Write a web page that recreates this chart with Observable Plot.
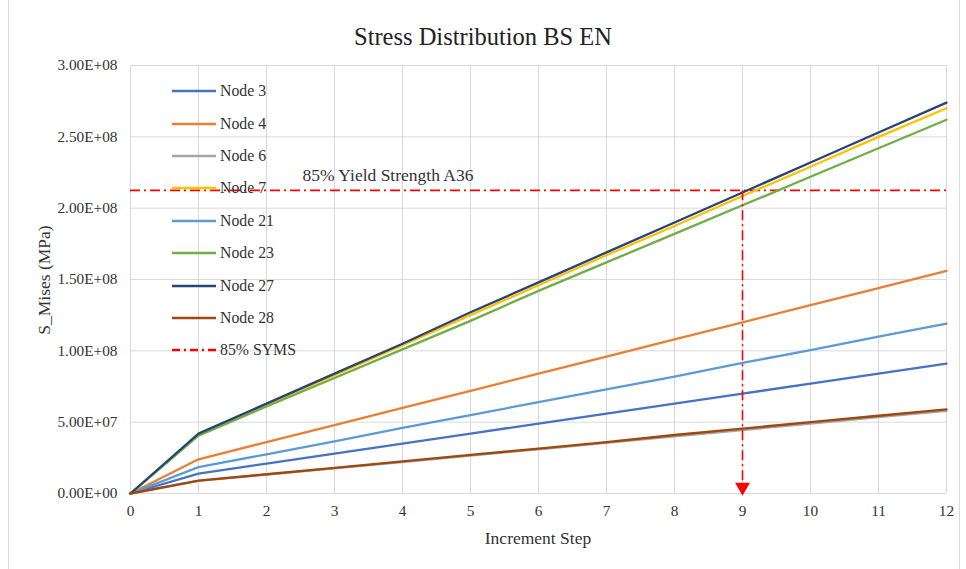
<!DOCTYPE html>
<html>
<head>
<meta charset="utf-8">
<script src="https://cdn.jsdelivr.net/npm/d3@7"></script>
<script src="https://cdn.jsdelivr.net/npm/@observablehq/plot@0.6"></script>
<style>
  html, body { margin: 0; padding: 0; background: #fff; }
  #wrap { position: relative; width: 966px; height: 569px; overflow: hidden; font-family: "Liberation Serif", "Times New Roman", serif; color: #333; }
  #frame { position: absolute; left: 8px; top: -2px; width: 952px; height: 600px; border: 1px solid #d9d9d9; box-sizing: border-box; }
  #title { position: absolute; left: 0; width: 966px; top: 22px; text-align: center; font-size: 24.5px; line-height: 30px; color: #222; }
  #chart { position: absolute; left: 0; top: 50px; }
  #ylabel { position: absolute; left: 44px; top: 280px; transform: translate(-50%, -50%) rotate(-90deg); white-space: nowrap; font-size: 17.5px; line-height: 20px; }
  #xlabel { position: absolute; left: 538px; top: 538px; transform: translate(-50%, -50%); white-space: nowrap; font-size: 17.5px; line-height: 20px; }
  #legend { position: absolute; left: 172px; top: 75px; font-size: 15.8px; color: #333; }
  .row { height: 32.4px; display: flex; align-items: center; }
  .row svg { margin-right: 4px; }
</style>
</head>
<body>
<div id="wrap">
  <div id="frame"></div>
  <div id="title">Stress Distribution BS EN</div>
  <div id="chart"></div>
  <div id="ylabel">S_Mises (MPa)</div>
  <div id="xlabel">Increment Step</div>
  <div id="legend"></div>
</div>
<script>
const steps = [0,1,2,3,4,5,6,7,8,9,10,11,12];
const seriesNames = ["Node 3","Node 4","Node 6","Node 7","Node 21","Node 23","Node 27","Node 28"];
const seriesColors = ["#4472C4","#ED7D31","#A5A5A5","#FFC000","#5B9BD5","#70AD47","#264478","#9E480E"];
// values in units of 1E8
const node3  = [0,0.14,0.21,0.28,0.35,0.42,0.49,0.56,0.63,0.70,0.77,0.84,0.91];
const node4  = [0,0.24,0.36,0.48,0.60,0.72,0.84,0.96,1.08,1.20,1.32,1.44,1.56];
const node6  = [0,0.088,0.132,0.176,0.22,0.265,0.31,0.355,0.40,0.445,0.49,0.535,0.58];
const node7  = [0,0.415,0.62,0.83,1.04,1.25,1.46,1.67,1.875,2.085,2.29,2.50,2.70];
const node21 = [0,0.185,0.275,0.365,0.46,0.55,0.64,0.73,0.82,0.915,1.005,1.10,1.19];
const node23 = [0,0.405,0.61,0.81,1.01,1.21,1.42,1.62,1.82,2.02,2.22,2.42,2.62];
const node27 = [0,0.42,0.63,0.84,1.05,1.27,1.48,1.69,1.90,2.11,2.32,2.53,2.74];
const node28 = [0,0.09,0.135,0.18,0.225,0.27,0.315,0.36,0.41,0.455,0.50,0.545,0.59];
const seriesValues = [node3, node4, node6, node7, node21, node23, node27, node28];
const yieldLevel = 2.125e8;
const yieldStep = 9;
const yTicks = [0,5e7,1e8,1.5e8,2e8,2.5e8,3e8];
const xTicks = steps;
const annotation = "85% Yield Strength A36";

const rows = [];
seriesNames.forEach((name, i) => {
  steps.forEach((s, j) => rows.push({series: name, step: s, value: seriesValues[i][j] * 1e8}));
});

function fmtE(v) {
  if (v === 0) return "0.00E+00";
  const e = Math.floor(Math.log10(Math.abs(v)));
  const m = v / Math.pow(10, e);
  return m.toFixed(2) + "E" + (e >= 0 ? "+" : "-") + String(Math.abs(e)).padStart(2, "0");
}

const plot = Plot.plot({
  width: 966,
  height: 519,
  marginTop: 15,
  marginBottom: 76,
  marginLeft: 130,
  marginRight: 20,
  style: {fontFamily: "'Liberation Serif', 'Times New Roman', serif", fontSize: "15.3px", color: "#333", background: "transparent"},
  x: {domain: [0, 12], label: null},
  y: {domain: [0, 3e8], label: null},
  color: {domain: seriesNames, range: seriesColors},
  marks: [
    Plot.gridX(xTicks, {stroke: "#d9d9d9", strokeOpacity: 1, strokeWidth: 1}),
    Plot.gridY(yTicks, {stroke: "#d9d9d9", strokeOpacity: 1, strokeWidth: 1}),
    Plot.axisX({ticks: xTicks, tickSize: 0, tickPadding: 12, label: null, fontSize: 15.3}),
    Plot.axisY({ticks: yTicks, tickFormat: fmtE, tickSize: 0, tickPadding: 13, label: null, fontSize: 15.3}),
    Plot.ruleY([yieldLevel], {stroke: "#FF0000", strokeWidth: 1.6, strokeDasharray: "10,4,2,4"}),
    Plot.line(rows, {x: "step", y: "value", z: "series", stroke: "series", strokeWidth: 2.3}),
    Plot.link([{x: yieldStep, y1: yieldLevel, y2: 0.07e8}], {x1: "x", x2: "x", y1: "y1", y2: "y2", stroke: "#FF0000", strokeWidth: 1.6, strokeDasharray: "10,4,2,4"}),
    Plot.dot([{x: yieldStep, y: 0.045e8}], {x: "x", y: "y", symbol: "triangle", rotate: 180, r: 5.5, fill: "#FF0000", stroke: "none"}),
    Plot.text([{x: 2.53, y: 2.23e8}], {x: "x", y: "y", text: () => annotation, textAnchor: "start", fontSize: 17.5, fill: "#333"})
  ]
});
document.getElementById("chart").appendChild(plot);

const legend = document.getElementById("legend");
const legendNames = seriesNames.concat(["85% SYMS"]);
legendNames.forEach((name, i) => {
  const row = document.createElement("div");
  row.className = "row";
  const isSyms = i === seriesNames.length;
  const color = isSyms ? "#FF0000" : seriesColors[i];
  const dash = isSyms ? 'stroke-dasharray="8,4,2,4"' : "";
  row.innerHTML = `<svg width="44" height="6"><line x1="0" y1="3" x2="44" y2="3" stroke="${color}" stroke-width="2.3" ${dash}/></svg><span>${name}</span>`;
  legend.appendChild(row);
});
</script>
</body>
</html>
